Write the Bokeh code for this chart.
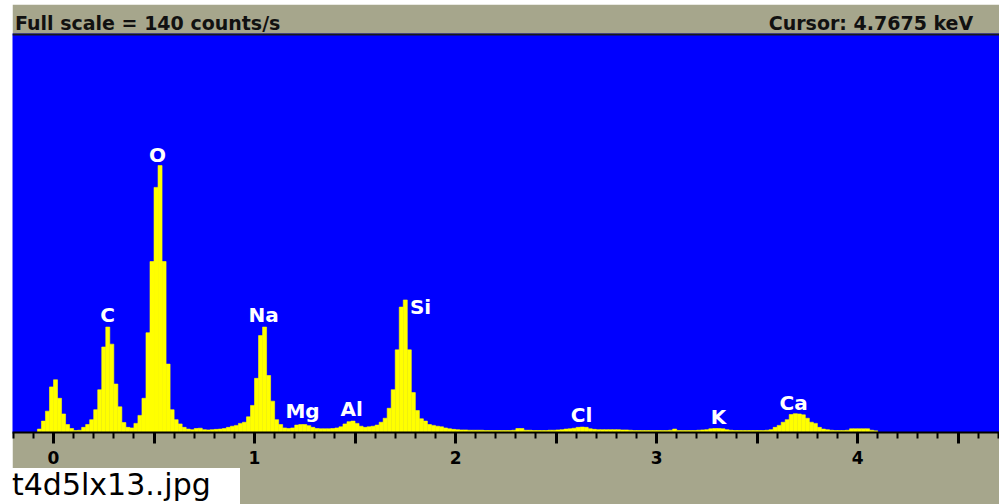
import numpy as np
from bokeh.plotting import figure
from bokeh.models import (ColumnDataSource, FixedTicker, Span, Range1d, Spacer,
                          LinearAxis, Div, AllLabels)
from bokeh.layouts import row, column
from bokeh.embed import file_html
from bokeh.resources import INLINE
from bokeh.core.properties import value

# ---------------- data ----------------
FULL_SCALE = 140          # counts/s
CURSOR_KEV = 4.7675
CHANNEL_START_KEV = -0.2
CHANNEL_WIDTH_KEV = 0.02

counts = [
    0, 0, 0, 0, 0, 0, 1.2, 4.0, 7.5, 16, 18.5, 12, 6.5, 2.8, 1.4, 0.7, 0.8,
    1.8, 2.8, 4.5, 8, 15, 30, 37, 31, 17, 9, 3.5, 1.8,
    1.6, 3.2, 6, 12, 35, 60, 86, 93.7, 60, 24, 8, 4.5, 3, 1.8,
    1.2, 1.0, 1.4, 1.5, 1.0, 0.9, 1.0, 1.1, 1.2, 1.4, 1.8, 2.2,
    2.5, 3.2, 3.6, 5.5, 9.5, 19, 34, 37, 20, 11, 4.5, 2.8, 1.6, 1.4,
    1.6, 2.6, 2.8, 2.8, 2.4, 1.8, 1.4, 1.3, 1.3, 1.3, 1.4, 1.6,
    2.0, 3.0, 3.8, 4.0, 3.2, 2.2, 1.8,
    2.0, 2.2, 2.6, 3.6, 5.0, 8.5, 15, 29, 44, 46.5, 29, 14, 7.7, 4.8, 4.0,
    2.8, 2.5, 2.2, 2.0, 1.6, 1.3, 1.1, 1.0,
    0.9, 0.9, 0.8, 0.8, 0.8, 0.8, 0.7, 0.7, 0.7, 0.7, 0.7,
    0.7, 0.7, 0.8, 1.4, 1.4,
    0.8, 0.8, 0.7, 0.7, 0.7, 0.7, 0.8, 0.8, 0.9, 1.0,
    1.2, 1.3, 1.5, 1.8, 1.9, 1.8, 1.3, 1.1,
    1.0, 1.0, 1.0, 1.0, 1.0, 1.0, 0.9, 0.9, 0.8,
    0.7, 0.7, 0.7, 0.7, 0.7, 0.7, 0.7, 0.7, 0.7, 0.8, 1.2,
    0.7, 0.7, 0.7, 0.7, 0.7, 0.8, 0.9, 1.0,
    1.3, 1.4, 1.4, 1.3, 1.0,
    0.8, 0.7, 0.7, 0.7, 0.7, 0.7, 0.7, 0.7, 0.7, 0.8,
    1.0, 1.8, 2.5, 3.6, 4.5, 6.3, 6.6, 6.5, 6.2, 5.0, 3.6, 3.2, 1.8, 1.2, 1.0,
    0.8, 0.7, 0.7, 0.7, 0.8,
    1.3, 1.3, 1.3, 1.3, 1.3, 0.8, 0.6,
]

element_names = ["C", "O", "Na", "Mg", "Al", "Si", "Cl", "K", "Ca"]
element_kev = [0.269, 0.517, 1.045, 1.239, 1.483, 1.826, 2.627, 3.308, 3.682]
element_label_counts = [41.4, 97.5, 41.1, 7.7, 8.4, 44.2, 6.0, 5.6, 10.5]

major_ticks_kev = [0, 0.5, 1, 1.5, 2, 2.5, 3, 3.5, 4, 4.5]
minor_ticks_kev = [round(-0.2 + 0.1 * i, 1) for i in range(50)]

title_left = "Full scale = 140  counts/s"
title_right = "Cursor: 4.7675 keV"
caption = "t4d5lx13..jpg"

# ---------------- styling ----------------
GREY = "#a6a68c"
BLUE = "#0000ff"
YELLOW = "#ffff00"

TOP, FRAME_H, BOTTOM = 29, 399, 36
W, H = 987, TOP + FRAME_H + BOTTOM
TOP_GAP = 4
CAP_H = 504 - TOP_GAP - H
x0, x1 = -0.204, 4.706
ppk = W / (x1 - x0)                 # pixels per keV

left = CHANNEL_START_KEV + CHANNEL_WIDTH_KEV * np.arange(len(counts))
src = ColumnDataSource(dict(left=left, right=left + CHANNEL_WIDTH_KEV,
                            top=counts, bottom=[0] * len(counts)))

p = figure(width=W, height=H, output_backend="svg", toolbar_location=None,
           x_range=Range1d(x0, x1), y_range=Range1d(0, FULL_SCALE),
           y_axis_location=None, min_border_left=0, min_border_right=0,
           min_border_top=TOP, min_border_bottom=BOTTOM)
p.background_fill_color = BLUE
p.border_fill_color = GREY
p.outline_line_color = None
p.grid.visible = False

p.quad(left="left", right="right", top="top", bottom="bottom", source=src,
       fill_color=YELLOW, line_color=YELLOW, line_width=0.6)

lab_src = ColumnDataSource(dict(x=element_kev, y=element_label_counts, t=element_names))
p.text(x="x", y="y", text="t", source=lab_src, text_color="white",
       text_font=value("DejaVu Sans"), text_font_style="bold", text_font_size="20px",
       text_align="center", text_baseline="middle")

p.add_layout(Span(location=FULL_SCALE, dimension="width", line_color="#1a1a1a", line_width=4))

ax = p.xaxis[0]
ax.ticker = FixedTicker(ticks=major_ticks_kev, minor_ticks=minor_ticks_kev)
ax.major_label_overrides = {t: ("" if t % 1 else str(int(t))) for t in major_ticks_kev}
ax.major_label_policy = AllLabels()
ax.axis_line_color = "black"
ax.axis_line_width = 2
ax.major_tick_line_color = "black"
ax.major_tick_line_width = 3
ax.major_tick_in = 0
ax.major_tick_out = 11
ax.minor_tick_line_color = "black"
ax.minor_tick_line_width = 2
ax.minor_tick_in = 0
ax.minor_tick_out = 6
ax.major_label_text_font = "DejaVu Sans"
ax.major_label_text_font_style = "bold"
ax.major_label_text_font_size = "17px"
ax.major_label_text_color = "black"
ax.major_label_standoff = 7

# header texts carried by an axis above the frame (centres in keV)
fs = 19
w_left = 14.37 * fs
w_right = 10.79 * fs
xl = x0 + (14 - 12 + w_left / 2) / ppk
xr = x0 + (973 - 12 - w_right / 2) / ppk
top_axis = LinearAxis(ticker=FixedTicker(ticks=[xl, xr], minor_ticks=[]),
                      major_label_overrides={xl: title_left, xr: title_right},
                      axis_line_color=None, major_tick_line_color=None,
                      minor_tick_line_color=None, major_tick_out=0, major_tick_in=0,
                      major_label_standoff=0,
                      major_label_text_font="DejaVu Sans",
                      major_label_text_font_style="bold",
                      major_label_text_font_size=f"{fs}px",
                      major_label_text_color="#111111")
p.add_layout(top_axis, "above")

cap = Div(text=f'<div style="padding-left:12px;line-height:{CAP_H - 2}px;'
               f'font-family:\'DejaVu Sans\';font-size:30px;color:black;white-space:nowrap;">{caption}</div>',
          width=240, height=CAP_H, margin=0,
          styles={"background-color": "white"})
strip = Div(text="", width=999 - 240, height=CAP_H, margin=0,
            styles={"background-color": GREY})

layout = column(Spacer(height=TOP_GAP, width=999),
                row(Spacer(width=12, height=H), p),
                row(cap, strip))
open("out.html", "w").write(file_html(layout, INLINE))
